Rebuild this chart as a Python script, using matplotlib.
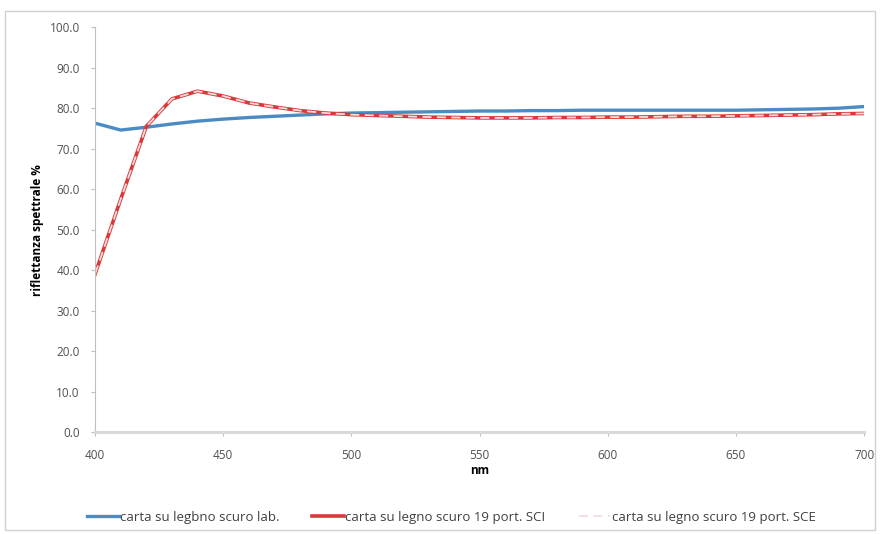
import matplotlib
matplotlib.use("Agg")
import matplotlib.pyplot as plt
from matplotlib.patches import Rectangle

nm = list(range(400, 701, 10))

lab = [76.3, 74.6, 75.3, 76.1, 76.8, 77.3, 77.7, 78.0, 78.3, 78.6, 78.8,
       78.9, 79.0, 79.1, 79.2, 79.3, 79.3, 79.4, 79.4, 79.5, 79.5,
       79.5, 79.5, 79.5, 79.5, 79.5, 79.6, 79.7, 79.8, 80.0, 80.4]

sci = [39.0, 57.5, 75.5, 82.3, 84.2, 83.0, 81.3, 80.3, 79.4, 78.8, 78.4,
       78.2, 78.0, 77.8, 77.7, 77.6, 77.6, 77.6, 77.7, 77.7, 77.8,
       77.8, 77.9, 78.0, 78.0, 78.1, 78.2, 78.3, 78.4, 78.6, 78.7]

sce = [39.0, 57.5, 75.5, 82.3, 84.2, 83.0, 81.3, 80.3, 79.4, 78.8, 78.4,
       78.2, 78.0, 77.8, 77.7, 77.6, 77.6, 77.6, 77.7, 77.7, 77.8,
       77.8, 77.9, 78.0, 78.0, 78.1, 78.2, 78.3, 78.4, 78.6, 78.7]

labels = ["carta su legbno scuro lab.",
          "carta su legno scuro 19 port. SCI",
          "carta su legno scuro 19 port. SCE"]

plt.rcParams["font.family"] = ["Open Sans", "DejaVu Sans"]
FS = 8.5

fig = plt.figure(figsize=(8.8, 5.34), dpi=100)
fig.patches.append(Rectangle((0.006, 0.008), 0.988, 0.972, transform=fig.transFigure,
                             fill=False, edgecolor="#d0d0d0", lw=1.0))
ax = fig.add_axes([0.108, 0.191, 0.874, 0.758])

l1, = ax.plot(nm, lab, color="#4a8bc4", lw=2.4)
l2, = ax.plot(nm, sci, color="#d9393a", lw=2.6)
l3, = ax.plot(nm, sce, color="#f6dcdc", lw=1.3, ls=(0, (5, 3)))

ax.set_xlim(400, 700)
ax.set_ylim(0, 100)
ax.set_xticks(range(400, 701, 50))
ax.set_yticks(range(0, 101, 10))
ax.set_yticklabels([f"{v:.1f}" for v in range(0, 101, 10)])
ax.tick_params(labelsize=FS, labelcolor="#505050", color="#bfbfbf", length=3, width=0.8)
ax.tick_params(axis="y", pad=8)
ax.tick_params(axis="x", pad=9)

for s in ("top", "right"):
    ax.spines[s].set_visible(False)
ax.spines["left"].set_color("#bfbfbf")
ax.spines["left"].set_linewidth(0.8)
ax.spines["bottom"].set_color("#d9d9d9")
ax.spines["bottom"].set_linewidth(2.2)

ax.set_xlabel("nm", fontsize=FS, fontweight="bold", labelpad=2)
ax.set_ylabel("riflettanza spettrale %", fontsize=FS, fontweight="bold", labelpad=4)

fig.legend([l1, l2, l3], labels, loc="center left", bbox_to_anchor=(87 / 880, 17 / 534),
           ncol=3, frameon=False, fontsize=9.5, handlelength=2.4, columnspacing=2.5,
           handletextpad=0.1, borderaxespad=0, borderpad=0, labelcolor="#404040")

fig.savefig("out.png", dpi=100, facecolor="white")
